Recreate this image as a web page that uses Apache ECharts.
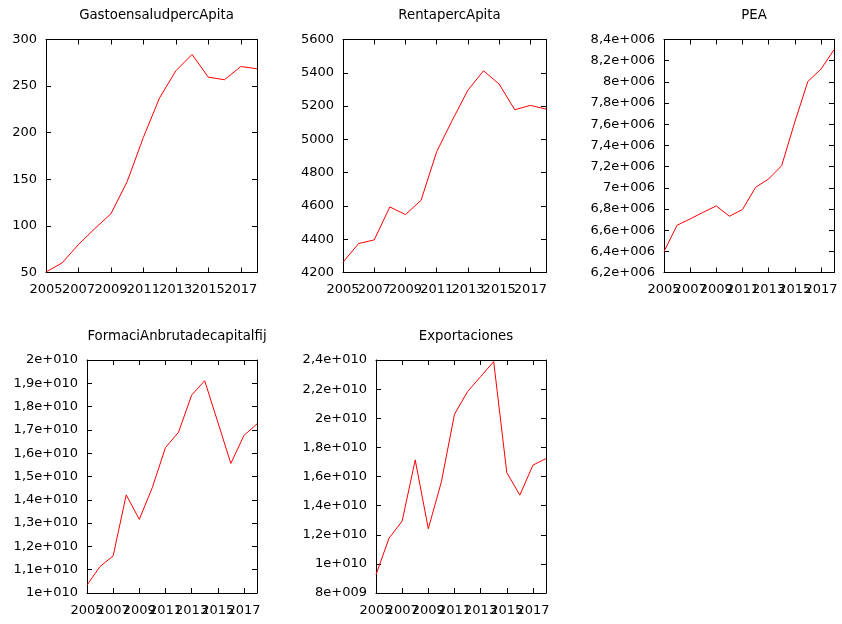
<!DOCTYPE html>
<html>
<head>
<meta charset="utf-8">
<script src="https://cdn.jsdelivr.net/npm/echarts@6/dist/echarts.min.js"></script>
<style>
html,body{margin:0;padding:0;background:#fff;}
#c{width:842px;height:624px;}
</style>
</head>
<body>
<div id="c"></div>
<script>
var years = ['2005','2006','2007','2008','2009','2010','2011','2012','2013','2014','2015','2016','2017','2018'];

var gastoSalud = [50.5, 60.4, 80, 97, 113, 147.5, 195, 237.5, 266.4, 284, 259.6, 256.8, 271, 268.6];
var renta = [4262, 4374, 4396, 4594, 4548, 4634, 4926, 5115, 5296, 5412, 5332, 5178, 5204, 5182];
var pea = [6.398e6, 6.646e6, 6.706e6, 6.769e6, 6.829e6, 6.731e6, 6.794e6, 7.004e6, 7.083e6, 7.209e6, 7.62e6, 8.004e6, 8.12e6, 8.303e6];
var fbkf = [1.034e10, 1.114e10, 1.159e10, 1.421e10, 1.316e10, 1.453e10, 1.624e10, 1.69e10, 1.849e10, 1.911e10, 1.734e10, 1.556e10, 1.676e10, 1.726e10];
var exportaciones = [9.26e9, 1.177e10, 1.294e10, 1.714e10, 1.241e10, 1.563e10, 2.027e10, 2.183e10, 2.286e10, 2.389e10, 1.627e10, 1.472e10, 1.678e10, 1.723e10];

var titles = ['GastoensaludpercApita', 'RentapercApita', 'PEA', 'FormaciAnbrutadecapitalfij', 'Exportaciones'];
var seriesData = [gastoSalud, renta, pea, fbkf, exportaciones];
var yMin = [50, 4200, 6.2e6, 1e10, 8e9];
var yMax = [300, 5600, 8.4e6, 2e10, 2.4e10];
var yStep = [50, 200, 2e5, 1e9, 2e9];
var sciFormat = [false, false, true, true, true];

var grids = [
  {left: 46, top: 39.5, width: 211, height: 233},
  {left: 343, top: 39.5, width: 203, height: 233},
  {left: 664, top: 39.5, width: 170, height: 233},
  {left: 87, top: 360, width: 170, height: 233},
  {left: 376, top: 360, width: 170, height: 233}
];

function sci(v) {
  if (v === 0) return '0';
  var e = Math.floor(Math.log10(Math.abs(v)) + 1e-9);
  var m = v / Math.pow(10, e);
  m = Math.round(m * 1e6) / 1e6;
  if (m >= 10) { m = m / 10; e += 1; }
  var ms = String(m).replace('.', ',');
  var es = String(Math.abs(e));
  while (es.length < 3) es = '0' + es;
  return ms + 'e' + (e < 0 ? '-' : '+') + es;
}

var FONT = 'DejaVu Sans';
var option = {
  animation: false,
  backgroundColor: '#fff',
  title: [], grid: [], xAxis: [], yAxis: [], series: []
};

for (var i = 0; i < 5; i++) {
  var g = grids[i];
  option.grid.push({left: g.left, top: g.top, width: g.width, height: g.height, containLabel: false});
  option.title.push({
    text: titles[i],
    left: g.left + g.width / 2,
    top: g.top - 35,
    textAlign: 'center',
    textStyle: {fontFamily: FONT, fontSize: 13.3, fontWeight: 'normal', color: '#000'}
  });
  var lineStyle = {color: '#000', width: 1};
  // bottom x axis: line, ticks, labels 2005/2009/2013/2017
  option.xAxis.push({
    type: 'category', gridIndex: i, data: years, boundaryGap: false, position: 'bottom',
    axisLine: {show: true, onZero: false, lineStyle: lineStyle},
    axisTick: {show: true, inside: true, length: 5, interval: 1, lineStyle: lineStyle},
    axisLabel: {show: true, interval: function (idx) { return idx % 4 === 0; }, margin: 11,
      hideOverlap: false, showMinLabel: true,
      fontFamily: FONT, fontSize: 13, color: '#000'},
    splitLine: {show: false}
  });
  // top mirror x axis
  option.xAxis.push({
    type: 'category', gridIndex: i, data: years, boundaryGap: false, position: 'top',
    axisLine: {show: true, onZero: false, lineStyle: lineStyle},
    axisTick: {show: true, inside: true, length: 5, interval: 1, lineStyle: lineStyle},
    axisLabel: {show: false},
    splitLine: {show: false}
  });
  // second bottom axis: labels 2007/2011/2015 only
  option.xAxis.push({
    type: 'category', gridIndex: i, data: years, boundaryGap: false, position: 'bottom',
    axisLine: {show: false, onZero: false},
    axisTick: {show: false},
    axisLabel: {show: true, interval: function (idx) { return idx % 4 === 2; }, margin: 11,
      hideOverlap: false,
      fontFamily: FONT, fontSize: 13, color: '#000'},
    splitLine: {show: false}
  });
  var fmt = sciFormat[i] ? sci : function (v) { return String(v); };
  option.yAxis.push({
    type: 'value', gridIndex: i, min: yMin[i], max: yMax[i], interval: yStep[i], position: 'left',
    axisLine: {show: true, onZero: false, lineStyle: lineStyle},
    axisTick: {show: true, inside: true, length: 5, lineStyle: lineStyle},
    axisLabel: {show: true, margin: 9, formatter: fmt, fontFamily: FONT, fontSize: 13, color: '#000'},
    splitLine: {show: false}
  });
  option.yAxis.push({
    type: 'value', gridIndex: i, min: yMin[i], max: yMax[i], interval: yStep[i], position: 'right',
    axisLine: {show: true, onZero: false, lineStyle: lineStyle},
    axisTick: {show: true, inside: true, length: 5, lineStyle: lineStyle},
    axisLabel: {show: false},
    splitLine: {show: false}
  });
  option.series.push({
    type: 'line', xAxisIndex: 3 * i, yAxisIndex: 2 * i, data: seriesData[i],
    showSymbol: false, symbol: 'none',
    lineStyle: {color: '#ff0000', width: 1},
    itemStyle: {color: '#ff0000'}
  });
}

var chart = echarts.init(document.getElementById('c'), null, {renderer: 'canvas'});
chart.setOption(option);
</script>
</body>
</html>
